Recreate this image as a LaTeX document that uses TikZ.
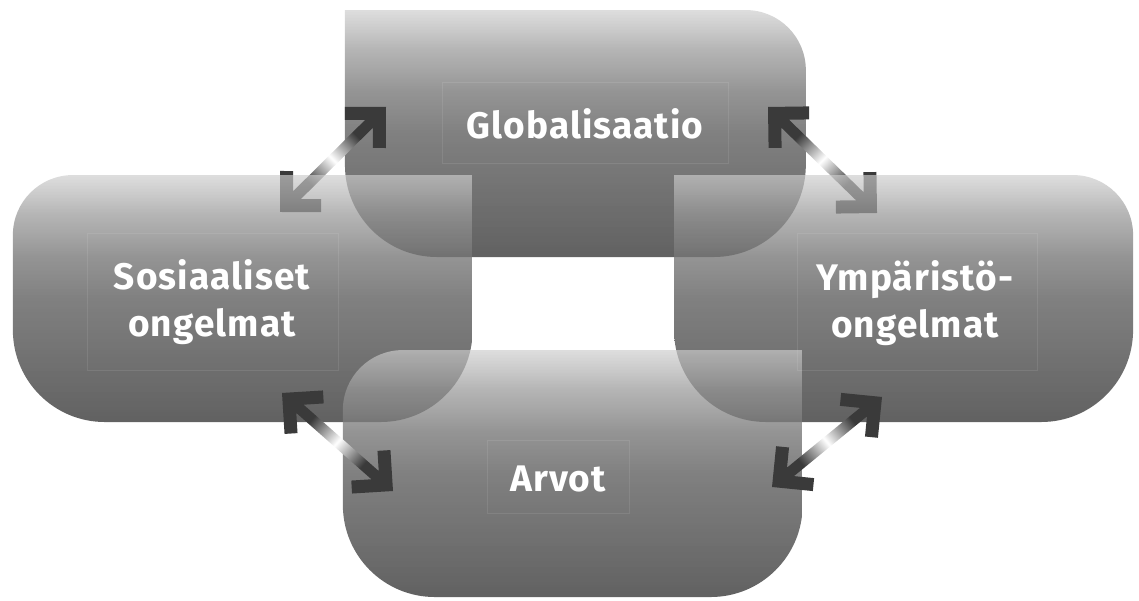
\documentclass[tikz,border=0pt]{standalone}
\usepackage{fontspec}
\newfontfamily\lblfont{Fira Sans}[LetterSpace=3]
\usetikzlibrary{fadings}
\definecolor{c95}{RGB}{97,97,97}
\definecolor{c102}{RGB}{103,103,103}
\definecolor{c118}{RGB}{118,118,118}
\definecolor{c150}{RGB}{152,152,152}
\definecolor{c200}{RGB}{205,205,205}
\definecolor{adark}{RGB}{58,58,58}
\pgfdeclareverticalshading{boxshade}{100bp}{color(0bp)=(c95); color(25bp)=(c95); color(50bp)=(c102); color(58.5bp)=(c118); color(67bp)=(c150); color(75bp)=(c200); color(100bp)=(c200)}
\pgfdeclarehorizontalshading{arrshade}{100bp}{color(0bp)=(adark); color(25bp)=(adark); color(34bp)=(adark); color(50bp)=(white); color(66bp)=(adark); color(75bp)=(adark); color(100bp)=(adark)}
\tikzfading[name=boxfade, top color=transparent!33, middle color=transparent!5, bottom color=transparent!0]
\tikzset{
  boxstyle/.style={shading=boxshade, path fading=boxfade},
  lbl/.style={text=white, inner sep=0pt, align=center, font=\lblfont\bfseries\fontsize{37}{47}\selectfont},
  frame/.style={draw=white, draw opacity=0.09, line width=0.9pt},
}
% box: left, bottom, right, top, rTL, rTR, rBR, rBL
\newcommand\boxpath[8]{(#1+#5,#4) -- (#3-#6,#4) arc[start angle=90,end angle=0,radius=#6pt] -- (#3,#2+#7) arc[start angle=0,end angle=-90,radius=#7pt] -- (#1+#8,#2) arc[start angle=270,end angle=180,radius=#8pt] -- (#1,#4-#5) arc[start angle=180,end angle=90,radius=#5pt] -- cycle}
\makeatletter
\newcommand\dblarrow[2]{%
  \pgfpointdiff{\pgfpointanchor{#1}{center}}{\pgfpointanchor{#2}{center}}%
  \edef\arrdx{\the\pgf@x}\edef\arrdy{\the\pgf@y}%
  \pgfmathsetmacro\arrlen{veclen(\arrdx,\arrdy)}%
  \pgfmathsetmacro\arrang{atan2(\arrdy,\arrdx)}%
  \begin{scope}[shift={(#1)}, rotate=\arrang]
    \shade[shading=arrshade, shading angle=\arrang] (23.9,5.5) -- (\arrlen-23.9,5.5) -- (\arrlen-38.2,19.8) -- (\arrlen-29,29) -- (\arrlen,0) -- (\arrlen-29,-29) -- (\arrlen-38.2,-19.8) -- (\arrlen-23.9,-5.5) -- (23.9,-5.5) -- (38.2,-19.8) -- (29,-29) -- (0,0) -- (29,29) -- (38.2,19.8) -- cycle;
  \end{scope}}
\makeatother
\begin{document}
\begin{tikzpicture}[x=1pt,y=1pt]
\useasboundingbox (0,0) rectangle (1139,601);
% arrow end coordinates
\coordinate (a1s) at (280,389);
\coordinate (a1g) at (386,494);
\coordinate (a2g) at (768,494);
\coordinate (a2y) at (877,388);
\coordinate (a3s) at (282,208);
\coordinate (a3a) at (393,110);
\coordinate (a4y) at (882,204);
\coordinate (a4a) at (772,114);
% Globalisaatio box
\shade[boxstyle] \boxpath{345}{344}{806}{591}{0.01}{60}{92}{92};
\dblarrow{a1s}{a1g}
\dblarrow{a2g}{a2y}
% Sosiaaliset box
\shade[boxstyle] \boxpath{13}{179}{473}{426}{60}{0.01}{92}{92};
% Ymparisto box
\shade[boxstyle] \boxpath{674}{179}{1133}{426}{0.01}{60}{92}{92};
% Arvot box
\shade[boxstyle] \boxpath{343}{4}{803}{251}{60}{0.01}{92}{92};
\dblarrow{a3s}{a3a}
\dblarrow{a4y}{a4a}
% faint text frames
\draw[frame] (442,519) rectangle (728,438);
\draw[frame] (87,368) rectangle (338,231);
\draw[frame] (797,368) rectangle (1037,231);
\draw[frame] (487,161) rectangle (629,88);
% labels
\node[lbl] (glob) at (585,477) {Globalisaatio};
\node[lbl] (sos) at (212,299) {Sosiaaliset\\ongelmat};
\node[lbl] (ymp) at (915,298) {Ympäristö-\\ongelmat};
\node[lbl] (arvot) at (558,122) {Arvot};
\end{tikzpicture}
\end{document}
